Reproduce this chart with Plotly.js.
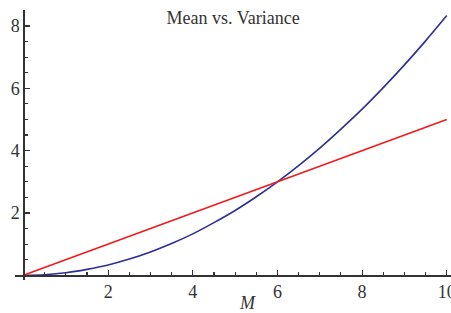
<!DOCTYPE html>
<html>
<head>
<meta charset="utf-8">
<script src="https://cdn.plot.ly/plotly-3.0.1.min.js"></script>
<style>html,body{margin:0;padding:0;background:#fff;}#plot{width:451px;height:313px;}</style>
</head>
<body>
<div id="plot"></div>
<script>
// Data
const meanM = [0, 0.5, 1, 1.5, 2, 2.5, 3, 3.5, 4, 4.5, 5, 5.5, 6, 6.5, 7, 7.5, 8, 8.5, 9, 9.5, 10];
const variance = [0, 0.02, 0.08, 0.19, 0.33, 0.52, 0.75, 1.02, 1.33, 1.69, 2.08, 2.52, 3.0, 3.52, 4.08, 4.69, 5.33, 6.02, 6.75, 7.52, 8.33];
const lineM = [0, 10];
const lineY = [0, 5];
const xTicks = [2, 4, 6, 8, 10];
const yTicks = [2, 4, 6, 8];
const titleText = "Mean vs. Variance";
const xLabel = "M";

const xRange = [-0.2, 10.1];
const yRange = [-0.15, 8.51];
function minorTicks(lo, hi, step, majors) {
  const out = [];
  for (let v = step; v <= hi + 1e-9; v += step) {
    const r = Math.round(v * 100) / 100;
    if (!majors.includes(r)) out.push(r);
  }
  return out;
}
const axisColor = '#333333';
const font = {family: 'Liberation Serif, Times New Roman, serif', size: 18, color: '#333333'};

const traces = [
  {x: meanM, y: variance, mode: 'lines', line: {color: '#2e2e96', width: 1.6, shape: 'spline', smoothing: 1}, hoverinfo: 'skip'},
  {x: lineM, y: lineY, mode: 'lines', line: {color: '#f01a1a', width: 1.6}, hoverinfo: 'skip'}
];

const layout = {
  width: 451, height: 313,
  margin: {l: 15, r: 0, t: 10, b: 33},
  paper_bgcolor: '#fff', plot_bgcolor: '#fff',
  showlegend: false,
  font: font,
  title: {text: titleText, font: font, x: 0.517, xanchor: 'center', xref: 'container', y: 1 - 18 / 313, yanchor: 'middle', yref: 'container'},
  xaxis: {
    range: xRange, showgrid: false, zeroline: false,
    showline: true, linecolor: axisColor, linewidth: 1.3,
    anchor: 'free', position: (0 - yRange[0]) / (yRange[1] - yRange[0]),
    tickmode: 'array', tickvals: xTicks, ticktext: xTicks.map(String),
    ticklabeloverflow: 'allow',
    ticks: 'inside', ticklen: 5, tickwidth: 1.2, tickcolor: axisColor,
    tickfont: font,
    minor: {tickvals: minorTicks(0, 10, 0.5, xTicks), ticks: 'inside', ticklen: 3, tickwidth: 1.1, tickcolor: axisColor, showgrid: false}
  },
  yaxis: {
    range: yRange, showgrid: false, zeroline: false,
    showline: true, linecolor: axisColor, linewidth: 1.3,
    anchor: 'free', position: (0 - xRange[0]) / (xRange[1] - xRange[0]),
    tickmode: 'array', tickvals: yTicks, ticktext: yTicks.map(String),
    ticks: 'inside', ticklen: 5, tickwidth: 1.2, tickcolor: axisColor,
    tickfont: font,
    minor: {tickvals: minorTicks(0, 8.5, 0.5, yTicks), ticks: 'inside', ticklen: 3, tickwidth: 1.1, tickcolor: axisColor, showgrid: false}
  },
  annotations: [
    {text: '<i>' + xLabel + '</i>', xref: 'paper', yref: 'paper', x: (247 - 15) / 436, y: (280 - 303) / 270,
     xanchor: 'center', yanchor: 'middle', showarrow: false, font: font}
  ]
};

Plotly.newPlot('plot', traces, layout, {staticPlot: true, displayModeBar: false});
</script>
</body>
</html>
